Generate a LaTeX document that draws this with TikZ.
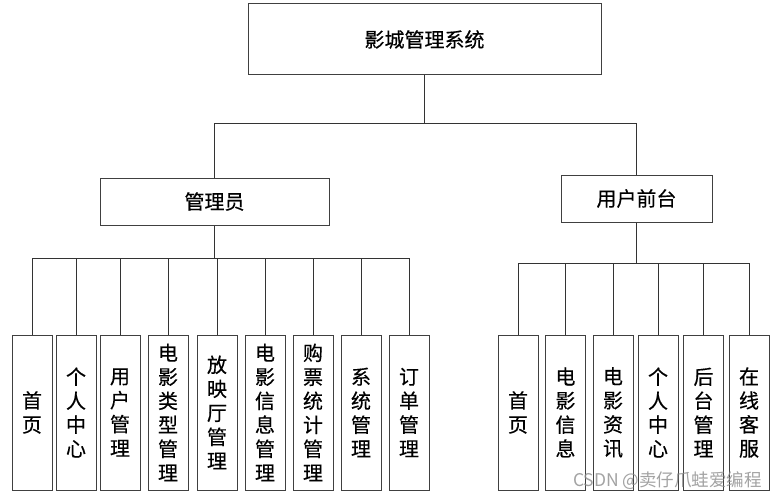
\documentclass[tikz,border=0pt]{standalone}
\usepackage{fontspec}
\newfontfamily\cjk[FakeBold=0.4]{Noto Sans CJK SC}
\newfontfamily\cjkwm{Noto Sans CJK SC}
\begin{document}
\begin{tikzpicture}[x=1pt,y=-1pt,
  box/.style={draw=black!75,line width=1pt,fill=white,rectangle,inner sep=0pt,
    font={\cjk\fontsize{20}{24}\selectfont}},
  leaf/.style={box,minimum width=40pt,minimum height=155pt,align=center},
  conn/.style={draw=black!80,line width=1pt}]
\useasboundingbox (0,0) rectangle (776,500);
\fill[white] (0,0) rectangle (776,500);

\node[box,minimum width=353pt,minimum height=71pt] (top) at (424.5,39.5) {影城管理系统};
\node[box,minimum width=229pt,minimum height=47pt] (admin) at (214.5,201.5) {管理员};
\node[box,minimum width=151pt,minimum height=47pt] (user) at (636.5,198.5) {用户前台};

\node[leaf] (a1) at (32,412.5) {首\\页};
\node[leaf] (a2) at (76,412.5) {个\\人\\中\\心};
\node[leaf] (a3) at (120,412.5) {用\\户\\管\\理};
\node[leaf] (a4) at (168,412.5) {电\\影\\类\\型\\管\\理};
\node[leaf] (a5) at (217,412.5) {放\\映\\厅\\管\\理};
\node[leaf] (a6) at (265,412.5) {电\\影\\信\\息\\管\\理};
\node[leaf] (a7) at (313,412.5) {购\\票\\统\\计\\管\\理};
\node[leaf] (a8) at (361,412.5) {系\\统\\管\\理};
\node[leaf] (a9) at (409,412.5) {订\\单\\管\\理};

\node[leaf] (u1) at (518,412.5) {首\\页};
\node[leaf] (u2) at (565.5,412.5) {电\\影\\信\\息};
\node[leaf] (u3) at (613,412.5) {电\\影\\资\\讯};
\node[leaf] (u4) at (658,412.5) {个\\人\\中\\心};
\node[leaf] (u5) at (703.5,412.5) {后\\台\\管\\理};
\node[leaf] (u6) at (749,412.5) {在\\线\\客\\服};

\coordinate (jt) at ([yshift=-48pt]top.south);
\draw[conn] (top.south) -- (jt);
\draw[conn] (admin.north) |- (jt) -| (user.north);

\coordinate (ja) at ([yshift=-33pt]admin.south);
\draw[conn] (admin.south) -- (ja);
\foreach \n in {a1,a2,a3,a4,a5,a6,a7,a8,a9} \draw[conn] (\n.north) |- (ja);

\coordinate (ju) at ([yshift=-41pt]user.south);
\draw[conn] (user.south) -- (ju);
\foreach \n in {u1,u2,u3,u4,u5,u6} \draw[conn] (\n.north) |- (ju);

\node[text=black!45,opacity=0.8,font={\cjkwm\fontsize{17.5}{20}\selectfont},anchor=east,inner sep=0pt] (wm) at (762,481) {CSDN @卖仔爪蛙爱编程};
\end{tikzpicture}
\end{document}
